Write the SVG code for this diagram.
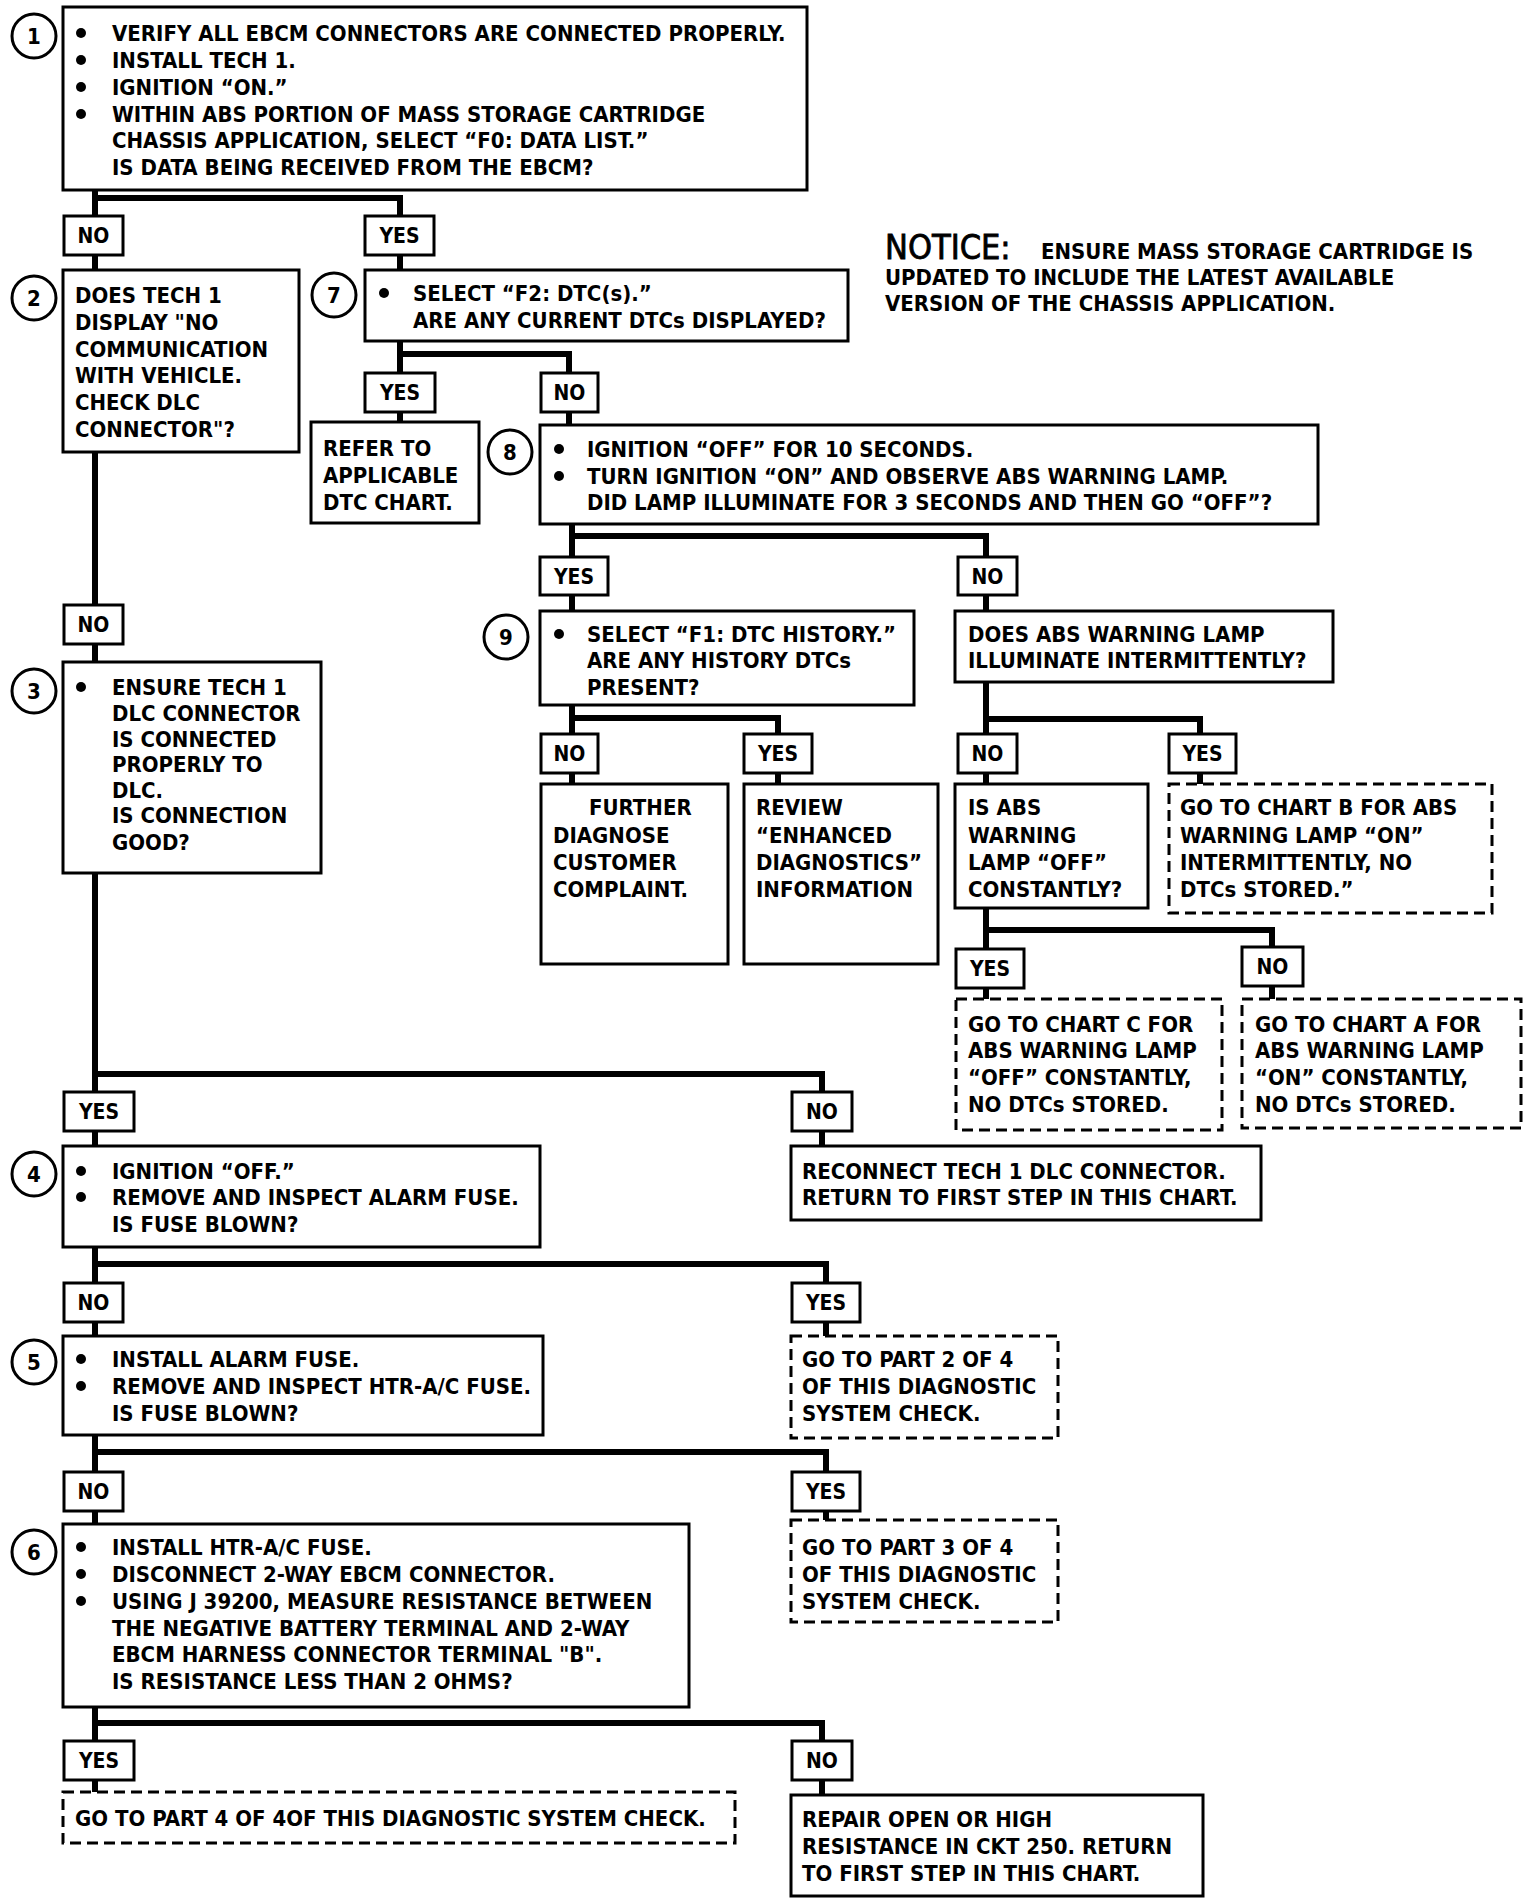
<svg xmlns="http://www.w3.org/2000/svg" width="1536" height="1898" viewBox="0 0 1536 1898">
<style>
.bx{fill:#fff;stroke:#000;stroke-width:3}
.ds{fill:#fff;stroke:#000;stroke-width:3;stroke-dasharray:11 6}
.lb{fill:#fff;stroke:#000;stroke-width:3}
.cn{fill:none;stroke:#000;stroke-width:6;stroke-linejoin:miter;stroke-linecap:butt}
.ci{fill:#fff;stroke:#000;stroke-width:3}
text{font-family:"DejaVu Sans Condensed","Liberation Sans",sans-serif;font-weight:bold;font-size:22px;fill:#000}
.lt{text-anchor:middle;font-size:21px}
.nm{text-anchor:middle;font-size:22px}
.nt{font-weight:normal;font-size:34px;stroke:#000;stroke-width:0.8}
</style>
<rect width="1536" height="1898" fill="#fff"/>
<g id="connectors">
<path class="cn" d="M95 190 V270 M95 198 H400 V270"/>
<path class="cn" d="M95 452 V662"/>
<path class="cn" d="M400 341 V422 M400 354 H569 V425"/>
<path class="cn" d="M572 524 V611 M572 536 H986 V611"/>
<path class="cn" d="M572 705 V784 M572 718 H778 V784"/>
<path class="cn" d="M986 682 V784 M986 719 H1200 V784"/>
<path class="cn" d="M986 908 V999 M986 930 H1272 V999"/>
<path class="cn" d="M95 873 V1146 M95 1074 H822 V1146"/>
<path class="cn" d="M95 1247 V1336 M95 1264 H826 V1336"/>
<path class="cn" d="M95 1435 V1524 M95 1452 H826 V1520"/>
<path class="cn" d="M95 1707 V1792 M95 1723 H822 V1795"/>
</g>
<g id="labels">
<rect class="lb" x="64" y="216" width="59" height="39"/><text class="lt" x="93.5" y="243">NO</text>
<rect class="lb" x="365" y="216" width="69" height="39"/><text class="lt" x="399.5" y="243">YES</text>
<rect class="lb" x="365" y="373" width="70" height="39"/><text class="lt" x="400" y="400">YES</text>
<rect class="lb" x="541" y="373" width="57" height="39"/><text class="lt" x="569.5" y="400">NO</text>
<rect class="lb" x="540" y="557" width="68" height="38"/><text class="lt" x="574" y="584">YES</text>
<rect class="lb" x="958" y="557" width="59" height="38"/><text class="lt" x="987.5" y="584">NO</text>
<rect class="lb" x="541" y="734" width="57" height="39"/><text class="lt" x="569.5" y="761">NO</text>
<rect class="lb" x="744" y="734" width="68" height="39"/><text class="lt" x="778" y="761">YES</text>
<rect class="lb" x="958" y="734" width="59" height="39"/><text class="lt" x="987.5" y="761">NO</text>
<rect class="lb" x="1169" y="734" width="67" height="39"/><text class="lt" x="1202.5" y="761">YES</text>
<rect class="lb" x="956" y="949" width="68" height="39"/><text class="lt" x="990" y="976">YES</text>
<rect class="lb" x="1242" y="947" width="61" height="39"/><text class="lt" x="1272.5" y="974">NO</text>
<rect class="lb" x="64" y="605" width="59" height="39"/><text class="lt" x="93.5" y="632">NO</text>
<rect class="lb" x="64" y="1092" width="70" height="39"/><text class="lt" x="99" y="1119">YES</text>
<rect class="lb" x="792" y="1092" width="60" height="39"/><text class="lt" x="822" y="1119">NO</text>
<rect class="lb" x="64" y="1283" width="59" height="39"/><text class="lt" x="93.5" y="1310">NO</text>
<rect class="lb" x="792" y="1283" width="68" height="39"/><text class="lt" x="826" y="1310">YES</text>
<rect class="lb" x="64" y="1472" width="59" height="39"/><text class="lt" x="93.5" y="1499">NO</text>
<rect class="lb" x="792" y="1472" width="68" height="39"/><text class="lt" x="826" y="1499">YES</text>
<rect class="lb" x="64" y="1741" width="70" height="39"/><text class="lt" x="99" y="1768">YES</text>
<rect class="lb" x="792" y="1741" width="60" height="39"/><text class="lt" x="822" y="1768">NO</text>
</g>
<g id="n1">
<rect class="bx" x="63" y="7" width="744" height="183"/>
<circle class="ci" cx="34" cy="36" r="22"/><text class="nm" x="34" y="44">1</text>
<circle cx="81" cy="33" r="5"/><circle cx="81" cy="60" r="5"/><circle cx="81" cy="87" r="5"/><circle cx="81" cy="114" r="5"/>
<text x="112" y="41">VERIFY ALL EBCM CONNECTORS ARE CONNECTED PROPERLY.</text>
<text x="112" y="68">INSTALL TECH 1.</text>
<text x="112" y="95">IGNITION “ON.”</text>
<text x="112" y="122">WITHIN ABS PORTION OF MASS STORAGE CARTRIDGE</text>
<text x="112" y="148">CHASSIS APPLICATION, SELECT “F0: DATA LIST.”</text>
<text x="112" y="175">IS DATA BEING RECEIVED FROM THE EBCM?</text>
</g>
<g id="notice">
<text class="nt" x="885" y="259">NOTICE:</text>
<text x="1041" y="259">ENSURE MASS STORAGE CARTRIDGE IS</text>
<text x="885" y="285">UPDATED TO INCLUDE THE LATEST AVAILABLE</text>
<text x="885" y="311">VERSION OF THE CHASSIS APPLICATION.</text>
</g>
<g id="n2">
<rect class="bx" x="63" y="270" width="236" height="182"/>
<circle class="ci" cx="34" cy="298" r="22"/><text class="nm" x="34" y="306">2</text>
<text x="75" y="303">DOES TECH 1</text>
<text x="75" y="330">DISPLAY "NO</text>
<text x="75" y="357">COMMUNICATION</text>
<text x="75" y="383">WITH VEHICLE.</text>
<text x="75" y="410">CHECK DLC</text>
<text x="75" y="437">CONNECTOR"?</text>
</g>
<g id="n7">
<rect class="bx" x="365" y="270" width="483" height="71"/>
<circle class="ci" cx="334" cy="295" r="22"/><text class="nm" x="334" y="303">7</text>
<circle cx="384" cy="293" r="5"/>
<text x="413" y="301">SELECT “F2: DTC(s).”</text>
<text x="413" y="328">ARE ANY CURRENT DTCs DISPLAYED?</text>
</g>
<g id="refer">
<rect class="bx" x="311" y="422" width="168" height="101"/>
<text x="323" y="456">REFER TO</text>
<text x="323" y="483">APPLICABLE</text>
<text x="323" y="510">DTC CHART.</text>
</g>
<g id="n8">
<rect class="bx" x="540" y="425" width="778" height="99"/>
<circle class="ci" cx="510" cy="452" r="22"/><text class="nm" x="510" y="460">8</text>
<circle cx="559" cy="449" r="5"/><circle cx="559" cy="476" r="5"/>
<text x="587" y="457">IGNITION “OFF” FOR 10 SECONDS.</text>
<text x="587" y="484">TURN IGNITION “ON” AND OBSERVE ABS WARNING  LAMP.</text>
<text x="587" y="510">DID LAMP ILLUMINATE FOR 3 SECONDS AND THEN GO “OFF”?</text>
</g>
<g id="n9">
<rect class="bx" x="540" y="611" width="374" height="94"/>
<circle class="ci" cx="506" cy="637" r="22"/><text class="nm" x="506" y="645">9</text>
<circle cx="559" cy="634" r="5"/>
<text x="587" y="642">SELECT “F1: DTC HISTORY.”</text>
<text x="587" y="668">ARE ANY HISTORY DTCs</text>
<text x="587" y="695">PRESENT?</text>
</g>
<g id="absint">
<rect class="bx" x="955" y="611" width="378" height="71"/>
<text x="968" y="642">DOES ABS WARNING  LAMP</text>
<text x="968" y="668">ILLUMINATE INTERMITTENTLY?</text>
</g>
<g id="further">
<rect class="bx" x="541" y="784" width="187" height="180"/>
<text x="589" y="815">FURTHER</text>
<text x="553" y="843">DIAGNOSE</text>
<text x="553" y="870">CUSTOMER</text>
<text x="553" y="897">COMPLAINT.</text>
</g>
<g id="review">
<rect class="bx" x="744" y="784" width="194" height="180"/>
<text x="756" y="815">REVIEW</text>
<text x="756" y="843">“ENHANCED</text>
<text x="756" y="870">DIAGNOSTICS”</text>
<text x="756" y="897">INFORMATION</text>
</g>
<g id="isabs">
<rect class="bx" x="955" y="784" width="193" height="124"/>
<text x="968" y="815">IS ABS</text>
<text x="968" y="843">WARNING</text>
<text x="968" y="870">LAMP “OFF”</text>
<text x="968" y="897">CONSTANTLY?</text>
</g>
<g id="chartb">
<rect class="ds" x="1169" y="784" width="323" height="129"/>
<text x="1180" y="815">GO TO CHART B FOR ABS</text>
<text x="1180" y="843">WARNING LAMP “ON”</text>
<text x="1180" y="870">INTERMITTENTLY, NO</text>
<text x="1180" y="897">DTCs STORED.”</text>
</g>
<g id="chartc">
<rect class="ds" x="956" y="999" width="266" height="131"/>
<text x="968" y="1032">GO TO CHART C FOR</text>
<text x="968" y="1058">ABS WARNING LAMP</text>
<text x="968" y="1085">“OFF” CONSTANTLY,</text>
<text x="968" y="1112">NO DTCs STORED.</text>
</g>
<g id="charta">
<rect class="ds" x="1242" y="999" width="279" height="129"/>
<text x="1255" y="1032">GO TO CHART A FOR</text>
<text x="1255" y="1058">ABS WARNING LAMP</text>
<text x="1255" y="1085">“ON” CONSTANTLY,</text>
<text x="1255" y="1112">NO DTCs STORED.</text>
</g>
<g id="n3">
<rect class="bx" x="63" y="662" width="258" height="211"/>
<circle class="ci" cx="34" cy="691" r="22"/><text class="nm" x="34" y="699">3</text>
<circle cx="81" cy="687" r="5"/>
<text x="112" y="695">ENSURE TECH 1</text>
<text x="112" y="721">DLC CONNECTOR</text>
<text x="112" y="747">IS CONNECTED</text>
<text x="112" y="772">PROPERLY TO</text>
<text x="112" y="798">DLC.</text>
<text x="112" y="823">IS CONNECTION</text>
<text x="112" y="850">GOOD?</text>
</g>
<g id="n4">
<rect class="bx" x="63" y="1146" width="477" height="101"/>
<circle class="ci" cx="34" cy="1174" r="22"/><text class="nm" x="34" y="1182">4</text>
<circle cx="81" cy="1171" r="5"/><circle cx="81" cy="1197" r="5"/>
<text x="112" y="1179">IGNITION “OFF.”</text>
<text x="112" y="1205">REMOVE AND INSPECT ALARM FUSE.</text>
<text x="112" y="1232">IS FUSE BLOWN?</text>
</g>
<g id="reconnect">
<rect class="bx" x="791" y="1146" width="470" height="74"/>
<text x="802" y="1179">RECONNECT TECH 1 DLC CONNECTOR.</text>
<text x="802" y="1205">RETURN TO FIRST STEP IN THIS CHART.</text>
</g>
<g id="n5">
<rect class="bx" x="63" y="1336" width="480" height="99"/>
<circle class="ci" cx="34" cy="1362" r="22"/><text class="nm" x="34" y="1370">5</text>
<circle cx="81" cy="1359" r="5"/><circle cx="81" cy="1386" r="5"/>
<text x="112" y="1367">INSTALL ALARM FUSE.</text>
<text x="112" y="1394">REMOVE AND INSPECT HTR-A/C FUSE.</text>
<text x="112" y="1421">IS FUSE BLOWN?</text>
</g>
<g id="part2">
<rect class="ds" x="791" y="1336" width="267" height="102"/>
<text x="802" y="1367">GO TO PART 2 OF 4</text>
<text x="802" y="1394">OF THIS DIAGNOSTIC</text>
<text x="802" y="1421">SYSTEM CHECK.</text>
</g>
<g id="n6">
<rect class="bx" x="63" y="1524" width="626" height="183"/>
<circle class="ci" cx="34" cy="1552" r="22"/><text class="nm" x="34" y="1560">6</text>
<circle cx="81" cy="1547" r="5"/><circle cx="81" cy="1574" r="5"/><circle cx="81" cy="1601" r="5"/>
<text x="112" y="1555">INSTALL HTR-A/C FUSE.</text>
<text x="112" y="1582">DISCONNECT 2-WAY EBCM CONNECTOR.</text>
<text x="112" y="1609">USING J 39200, MEASURE RESISTANCE BETWEEN</text>
<text x="112" y="1636">THE NEGATIVE BATTERY TERMINAL AND 2-WAY</text>
<text x="112" y="1662">EBCM HARNESS CONNECTOR TERMINAL "B".</text>
<text x="112" y="1689">IS RESISTANCE LESS THAN 2 OHMS?</text>
</g>
<g id="part3">
<rect class="ds" x="791" y="1520" width="267" height="102"/>
<text x="802" y="1555">GO TO PART 3 OF 4</text>
<text x="802" y="1582">OF THIS DIAGNOSTIC</text>
<text x="802" y="1609">SYSTEM CHECK.</text>
</g>
<g id="part4">
<rect class="ds" x="63" y="1792" width="672" height="51"/>
<text x="75" y="1826">GO TO PART 4 OF 4OF THIS DIAGNOSTIC SYSTEM CHECK.</text>
</g>
<g id="repair">
<rect class="bx" x="791" y="1795" width="412" height="101"/>
<text x="802" y="1827">REPAIR OPEN OR HIGH</text>
<text x="802" y="1854">RESISTANCE IN CKT 250.  RETURN</text>
<text x="802" y="1881">TO FIRST STEP IN THIS CHART.</text>
</g>
</svg>
